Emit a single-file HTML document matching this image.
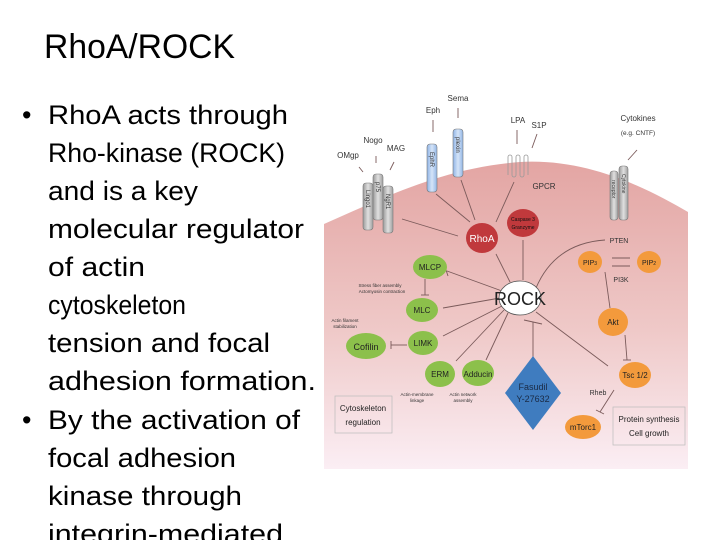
<!DOCTYPE html>
<html><head><meta charset="utf-8"><style>
html,body{margin:0;padding:0;background:#fff;}
svg{display:block;}
</style></head><body>
<svg width="720" height="540" viewBox="0 0 720 540" xmlns="http://www.w3.org/2000/svg" font-family="Liberation Sans, sans-serif">
<defs>
<linearGradient id="pk" x1="0" y1="0" x2="0" y2="1">
<stop offset="0" stop-color="#e3a5a3"/><stop offset="0.55" stop-color="#efc9c8"/><stop offset="1" stop-color="#fbeef4"/>
</linearGradient>
<linearGradient id="cyl" x1="0" x2="1"><stop offset="0" stop-color="#9a9a9a"/><stop offset="0.5" stop-color="#e0e0e0"/><stop offset="1" stop-color="#a0a0a0"/></linearGradient>
<linearGradient id="bcyl" x1="0" x2="1"><stop offset="0" stop-color="#8fb4e6"/><stop offset="0.5" stop-color="#d5e4f8"/><stop offset="1" stop-color="#92b6e6"/></linearGradient>
</defs>
<!-- left text -->
<text x="44" y="58" font-size="34" fill="#000" textLength="191" lengthAdjust="spacingAndGlyphs">RhoA/ROCK</text>
<g font-size="27" fill="#000">
<text x="22" y="124">•</text>
<text x="48" y="124" textLength="240" lengthAdjust="spacingAndGlyphs">RhoA acts through</text>
<text x="48" y="162" textLength="237" lengthAdjust="spacingAndGlyphs">Rho-kinase (ROCK)</text>
<text x="48" y="200" textLength="150" lengthAdjust="spacingAndGlyphs">and is a key</text>
<text x="48" y="238" textLength="256" lengthAdjust="spacingAndGlyphs">molecular regulator</text>
<text x="48" y="276" textLength="97" lengthAdjust="spacingAndGlyphs">of actin</text>
<text x="48" y="314" textLength="138" lengthAdjust="spacingAndGlyphs">cytoskeleton</text>
<text x="48" y="352" textLength="222" lengthAdjust="spacingAndGlyphs">tension and focal</text>
<text x="48" y="390" textLength="268" lengthAdjust="spacingAndGlyphs">adhesion formation.</text>
<text x="22" y="429">•</text>
<text x="48" y="429" textLength="252" lengthAdjust="spacingAndGlyphs">By the activation of</text>
<text x="48" y="467" textLength="188" lengthAdjust="spacingAndGlyphs">focal adhesion</text>
<text x="48" y="505" textLength="194" lengthAdjust="spacingAndGlyphs">kinase through</text>
<text x="48" y="543" textLength="235" lengthAdjust="spacingAndGlyphs">integrin-mediated</text>
</g>
<!-- diagram background -->
<path d="M324 224 C 380 200, 440 168, 520 162 C 590 158, 650 190, 688 212 L688 469 L324 469 Z" fill="url(#pk)"/>
<!-- connectors -->
<g stroke="#7a5a5a" stroke-width="0.9" fill="none">
<line x1="363" y1="172" x2="359" y2="167"/><line x1="376" y1="163" x2="376" y2="156"/><line x1="390" y1="170" x2="394" y2="162"/>
<line x1="433" y1="120" x2="433" y2="132"/><line x1="458" y1="108" x2="458" y2="118"/>
<line x1="517" y1="130" x2="517" y2="144"/><line x1="537" y1="134" x2="532" y2="148"/>
<line x1="637" y1="150" x2="628" y2="160"/>
<line x1="402" y1="219" x2="458" y2="236"/>
<line x1="436" y1="194" x2="470" y2="222"/>
<line x1="461" y1="180" x2="475" y2="220"/>
<line x1="514" y1="182" x2="496" y2="222"/>
<line x1="496" y1="254" x2="510" y2="282"/>
<line x1="523" y1="240" x2="523" y2="280"/>
<path d="M536 288 C 550 255, 575 242, 605 240"/>
<line x1="502" y1="291" x2="447" y2="271"/><line x1="445" y1="267" x2="448" y2="276"/>
<line x1="500" y1="298" x2="443" y2="308"/>
<line x1="502" y1="306" x2="443" y2="336"/>
<line x1="504" y1="310" x2="456" y2="361"/>
<line x1="508" y1="313" x2="486" y2="360"/>
<line x1="536" y1="312" x2="608" y2="366"/>
<line x1="425" y1="279" x2="425" y2="295"/><line x1="421" y1="295" x2="429" y2="295"/>
<line x1="407" y1="345" x2="391" y2="345"/><line x1="391" y1="341" x2="391" y2="349"/>
<line x1="533" y1="357" x2="533" y2="322"/><line x1="524" y1="320" x2="542" y2="324"/>
<line x1="612" y1="258" x2="630" y2="258"/><line x1="630" y1="266" x2="612" y2="266"/>
<line x1="605" y1="272" x2="610" y2="308"/>
<line x1="625" y1="335" x2="627" y2="360"/><line x1="623" y1="360" x2="631" y2="360"/>
<line x1="614" y1="390" x2="600" y2="412"/><line x1="596" y1="410" x2="604" y2="414"/>
</g>
<!-- receptors -->
<g stroke="#777" stroke-width="0.6">
<rect x="363" y="183" width="10" height="47" rx="3" fill="url(#cyl)"/>
<rect x="373" y="174" width="10" height="46" rx="3" fill="url(#cyl)"/>
<rect x="383" y="186" width="10" height="47" rx="3" fill="url(#cyl)"/>
<rect x="427" y="144" width="10" height="48" rx="3" fill="url(#bcyl)"/>
<rect x="453" y="129" width="10" height="48" rx="3" fill="url(#bcyl)"/>
<rect x="610" y="171" width="8" height="49" rx="3" fill="url(#cyl)"/>
<rect x="619" y="166" width="9" height="54" rx="3" fill="url(#cyl)"/>
</g>
<path d="M508 175 v-18 a2 2 0 0 1 4 0 v18 a2 2 0 0 0 4 0 v-18 a2 2 0 0 1 4 0 v18 a2 2 0 0 0 4 0 v-18 a2 2 0 0 1 4 0 v18" fill="none" stroke="#999" stroke-width="0.8"/>
<g font-size="6" fill="#333">
<text transform="translate(366 190) rotate(90)">Lingo1</text>
<text transform="translate(376 182) rotate(90)">p75</text>
<text transform="translate(386 194) rotate(90)">NgR1</text>
<text transform="translate(430 152) rotate(90)">EphR</text>
<text transform="translate(456 137) rotate(90)">plexin</text>
<text transform="translate(612 180) rotate(90)" font-size="5">receptor</text>
<text transform="translate(622 174) rotate(90)" font-size="5">Cytokine</text>
</g>
<g font-size="8" fill="#333" text-anchor="middle">
<text x="348" y="158">OMgp</text><text x="373" y="143">Nogo</text><text x="396" y="151">MAG</text>
<text x="433" y="113">Eph</text><text x="458" y="101">Sema</text>
<text x="518" y="123">LPA</text><text x="539" y="128">S1P</text>
<text x="544" y="189">GPCR</text>
<text x="638" y="121">Cytokines</text><text x="638" y="135" font-size="6.5">(e.g. CNTF)</text>
<text x="619" y="243" font-size="7">PTEN</text>
<text x="621" y="282" font-size="7">PI3K</text>
<text x="598" y="395" font-size="7">Rheb</text>
</g>
<!-- nodes -->
<g>
<ellipse cx="482" cy="238" rx="16" ry="15" fill="#c0393c"/>
<ellipse cx="523" cy="223" rx="16" ry="14" fill="#c0393c"/>
<ellipse cx="520" cy="298" rx="21" ry="17" fill="#fff" stroke="#555" stroke-width="0.8"/>
<ellipse cx="430" cy="267" rx="17" ry="12" fill="#8cc04b"/>
<ellipse cx="422" cy="310" rx="16" ry="12" fill="#8cc04b"/>
<ellipse cx="423" cy="343" rx="15" ry="12" fill="#8cc04b"/>
<ellipse cx="366" cy="346" rx="20" ry="13" fill="#8cc04b"/>
<ellipse cx="440" cy="374" rx="15" ry="13" fill="#8cc04b"/>
<ellipse cx="478" cy="373" rx="16" ry="13" fill="#8cc04b"/>
<ellipse cx="590" cy="262" rx="12" ry="11" fill="#f39a3c"/>
<ellipse cx="649" cy="262" rx="12" ry="11" fill="#f39a3c"/>
<ellipse cx="613" cy="322" rx="15" ry="14" fill="#f39a3c"/>
<ellipse cx="635" cy="375" rx="16" ry="13" fill="#f39a3c"/>
<ellipse cx="583" cy="427" rx="18" ry="12" fill="#f39a3c"/>
<polygon points="533,356 561,393 533,430 505,393" fill="#3f7cbf"/>
</g>
<g text-anchor="middle" fill="#222">
<text x="482" y="242" font-size="10" fill="#fff">RhoA</text>
<text x="523" y="221" font-size="5" fill="#111">Caspase 3</text>
<text x="523" y="229" font-size="5" fill="#111">Granzyme</text>
<text x="520" y="305" font-size="18">ROCK</text>
<text x="430" y="270" font-size="8">MLCP</text>
<text x="422" y="313" font-size="8">MLC</text>
<text x="423" y="346" font-size="8">LIMK</text>
<text x="366" y="350" font-size="9">Cofilin</text>
<text x="440" y="377" font-size="8">ERM</text>
<text x="478" y="377" font-size="8">Adducin</text>
<text x="590" y="265" font-size="7">PIP<tspan font-size="5">3</tspan></text>
<text x="649" y="265" font-size="7">PIP<tspan font-size="5">2</tspan></text>
<text x="613" y="325" font-size="8">Akt</text>
<text x="635" y="378" font-size="8">Tsc 1/2</text>
<text x="583" y="430" font-size="8">mTorc1</text>
<text x="533" y="390" font-size="9" fill="#1a2a44">Fasudil</text>
<text x="533" y="402" font-size="9" fill="#1a2a44">Y-27632</text>
<g font-size="4.5" fill="#333">
<text x="380" y="287">Stress fiber assembly</text>
<text x="382" y="293">Actomyosin contraction</text>
<text x="345" y="322">Actin filament</text>
<text x="345" y="328">stabilization</text>
<text x="417" y="396">Actin-membrane</text>
<text x="417" y="402">linkage</text>
<text x="463" y="396">Actin network</text>
<text x="463" y="402">assembly</text>
</g>
</g>
<rect x="335" y="396" width="57" height="37" fill="none" stroke="#bbb" stroke-width="0.7"/>
<text x="363" y="411" font-size="8" text-anchor="middle" fill="#222">Cytoskeleton</text>
<text x="363" y="425" font-size="8" text-anchor="middle" fill="#222">regulation</text>
<rect x="613" y="407" width="72" height="38" fill="none" stroke="#bbb" stroke-width="0.7"/>
<text x="649" y="422" font-size="8" text-anchor="middle" fill="#222">Protein synthesis</text>
<text x="649" y="436" font-size="8" text-anchor="middle" fill="#222">Cell growth</text>
</svg>
</body></html>
